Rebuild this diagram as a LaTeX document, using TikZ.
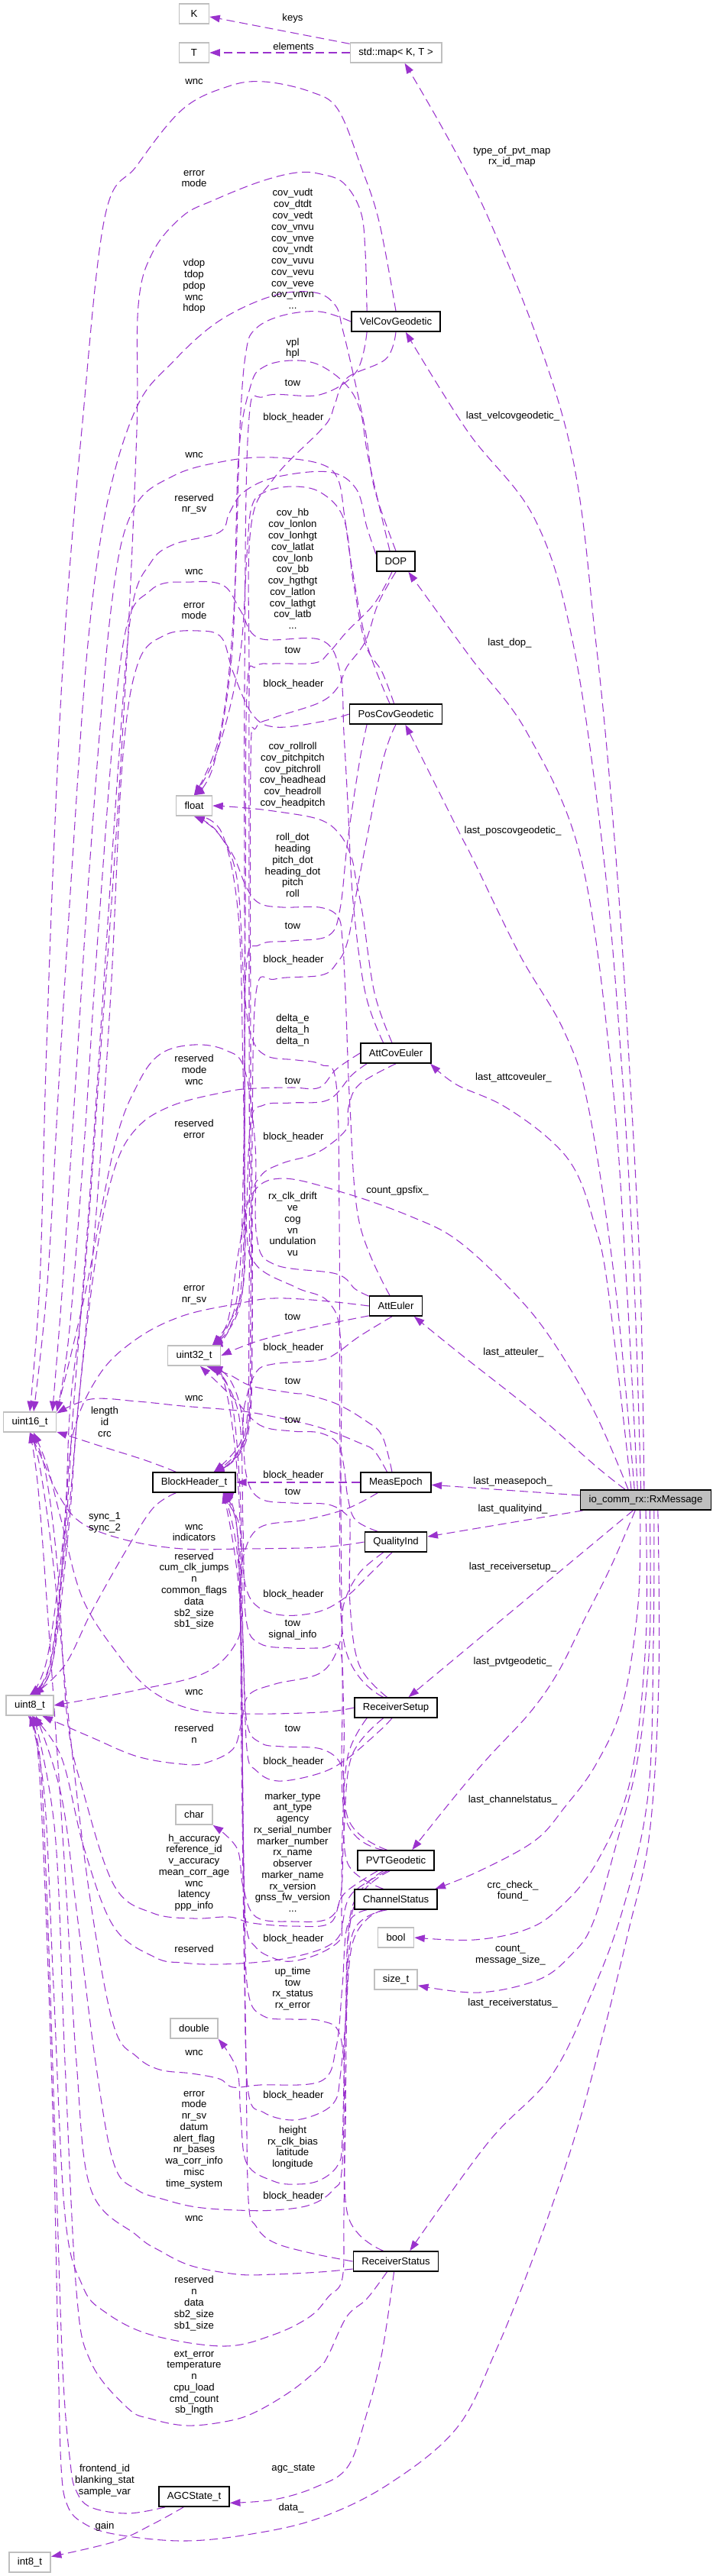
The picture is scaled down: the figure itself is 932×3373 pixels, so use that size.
\documentclass[tikz,border=0pt]{standalone}
\usepackage{fontspec}
\setmainfont{Liberation Sans}
\usetikzlibrary{arrows.meta}
\definecolor{edgecol}{HTML}{9A32CD}
\definecolor{boxgray}{HTML}{BFBFBF}
\pgfdeclarelayer{bg}
\pgfsetlayers{bg,main}

\begin{document}
\begin{tikzpicture}[x=0.2mm,y=-0.2mm,font=\fontsize{7.5}{8.4}\selectfont,
  cls/.style={draw=black,line width=0.9pt,fill=white,minimum height=5.2mm,minimum width=7.8mm,inner xsep=2.2mm,inner ysep=0pt},
  ext/.style={cls,draw=boxgray},
  root/.style={cls,fill=boxgray},
  lbl/.style={inner sep=0pt,align=center},
  dep/.style={draw=edgecol,line width=0.6pt,dash pattern=on 2.2mm off 1.2mm,tension=0.6,-{Triangle[length=2.7mm,width=1.9mm]}}]
\useasboundingbox (0,0) rectangle (932,3373);

% classes and types
\node[ext] (k) at (254,18) {K};
\node[ext] (t) at (254,69) {T};
\node[ext] (stdmap) at (518,69) {std::map< K, T >};
\node[cls] (velcov) at (518,421) {VelCovGeodetic};
\node[cls] (dop) at (518,735) {DOP};
\node[cls] (poscov) at (518,935) {PosCovGeodetic};
\node[ext] (tfloat) at (254,1055) {float};
\node[cls] (attcov) at (518,1379) {AttCovEuler};
\node[cls] (atteuler) at (518,1710) {AttEuler};
\node[ext] (tuint32) at (254,1775) {uint32\_t};
\node[ext] (tuint16) at (39,1862) {uint16\_t};
\node[cls] (blockheader) at (254,1941) {BlockHeader\_t};
\node[cls] (measepoch) at (518,1941) {MeasEpoch};
\node[root] (rxmsg) at (845,1964) {io\_comm\_rx::RxMessage};
\node[cls] (qualityind) at (518,2019) {QualityInd};
\node[ext] (tuint8) at (39,2233) {uint8\_t};
\node[cls] (rxsetup) at (518,2236) {ReceiverSetup};
\node[ext] (tchar) at (254,2376) {char};
\node[cls] (pvt) at (518,2436) {PVTGeodetic};
\node[cls] (chstatus) at (518,2487) {ChannelStatus};
\node[ext] (tbool) at (518,2537) {bool};
\node[ext] (tsize) at (518,2592) {size\_t};
\node[ext] (tdouble) at (254,2656) {double};
\node[cls] (rxstatus) at (518,2961) {ReceiverStatus};
\node[cls] (agc) at (254,3269) {AGCState\_t};
\node[ext] (tint8) at (39,3355) {int8\_t};

% member labels
\node[lbl] (lkeys) at (383,24) {keys};
\node[lbl] (lelem) at (384,61) {elements};
\node[lbl] (lmap) at (670,205) {type\_of\_pvt\_map\\rx\_id\_map};
\node[lbl] (lvcwnc) at (254,107) {wnc};
\node[lbl] (lvcerr) at (254,234) {error\\mode};
\node[lbl] (lvccov) at (383,326) {cov\_vudt\\cov\_dtdt\\cov\_vedt\\cov\_vnvu\\cov\_vnve\\cov\_vndt\\cov\_vuvu\\cov\_vevu\\cov\_veve\\cov\_vnvn\\...};
\node[lbl] (ldopu16) at (254,375) {vdop\\tdop\\pdop\\wnc\\hdop};
\node[lbl] (ldopfl) at (383,456) {vpl\\hpl};
\node[lbl] (lvctow) at (383,501) {tow};
\node[lbl] (lvcbh) at (384,547) {block\_header};
\node[lbl] (llastvc) at (671,545) {last\_velcovgeodetic\_};
\node[lbl] (lpcwnc) at (254,596) {wnc};
\node[lbl] (ldopu8) at (254,660) {reserved\\nr\_sv};
\node[lbl] (lpccov) at (383,745) {cov\_hb\\cov\_lonlon\\cov\_lonhgt\\cov\_latlat\\cov\_lonb\\cov\_bb\\cov\_hgthgt\\cov\_latlon\\cov\_lathgt\\cov\_latb\\...};
\node[lbl] (lacwnc) at (254,749) {wnc};
\node[lbl] (lpcerr) at (254,800) {error\\mode};
\node[lbl] (llastdop) at (667,842) {last\_dop\_};
\node[lbl] (ldoptow) at (383,851) {tow};
\node[lbl] (ldopbh) at (384,896) {block\_header};
\node[lbl] (laccov) at (383,1015) {cov\_rollroll\\cov\_pitchpitch\\cov\_pitchroll\\cov\_headhead\\cov\_headroll\\cov\_headpitch};
\node[lbl] (llastpc) at (671,1088) {last\_poscovgeodetic\_};
\node[lbl] (laefl) at (383,1133) {roll\_dot\\heading\\pitch\_dot\\heading\_dot\\pitch\\roll};
\node[lbl] (lpctow) at (383,1212) {tow};
\node[lbl] (lpcbh) at (384,1257) {block\_header};
\node[lbl] (lrsfl) at (383,1349) {delta\_e\\delta\_h\\delta\_n};
\node[lbl] (laeu16) at (254,1401) {reserved\\mode\\wnc};
\node[lbl] (lactow) at (383,1415) {tow};
\node[lbl] (llastac) at (672,1411) {last\_attcoveuler\_};
\node[lbl] (lacu8) at (254,1478) {reserved\\error};
\node[lbl] (lacbh) at (384,1489) {block\_header};
\node[lbl] (lgpsfix) at (520,1559) {count\_gpsfix\_};
\node[lbl] (lpvtfl) at (383,1603) {rx\_clk\_drift\\ve\\cog\\vn\\undulation\\vu};
\node[lbl] (laeu8) at (254,1696) {error\\nr\_sv};
\node[lbl] (laetow) at (383,1724) {tow};
\node[lbl] (laebh) at (384,1765) {block\_header};
\node[lbl] (llastae) at (672,1771) {last\_atteuler\_};
\node[lbl] (lmetow) at (383,1808) {tow};
\node[lbl] (lmewnc) at (254,1831) {wnc};
\node[lbl] (lbhu16) at (137,1862) {length\\id\\crc};
\node[lbl] (lqitow) at (383,1859) {tow};
\node[lbl] (lmebh) at (384,1932) {block\_header};
\node[lbl] (llastme) at (671,1940) {last\_measepoch\_};
\node[lbl] (lrstow) at (383,1953) {tow};
\node[lbl] (llastqi) at (671,1976) {last\_qualityind\_};
\node[lbl] (lbhu8) at (137,1994) {sync\_1\\sync\_2};
\node[lbl] (lqiu16) at (254,2007) {wnc\\indicators};
\node[lbl] (lmeu8) at (254,2083) {reserved\\cum\_clk\_jumps\\n\\common\_flags\\data\\sb2\_size\\sb1\_size};
\node[lbl] (llastrs) at (671,2052) {last\_receiversetup\_};
\node[lbl] (lqibh) at (384,2088) {block\_header};
\node[lbl] (lpvttow) at (383,2134) {tow\\signal\_info};
\node[lbl] (llastpvt) at (671,2176) {last\_pvtgeodetic\_};
\node[lbl] (lrswnc) at (254,2216) {wnc};
\node[lbl] (lqiu8) at (254,2270) {reserved\\n};
\node[lbl] (lcstow) at (383,2263) {tow};
\node[lbl] (lrsbh) at (384,2307) {block\_header};
\node[lbl] (llastcs) at (671,2357) {last\_channelstatus\_};
\node[lbl] (lrschar) at (383,2425) {marker\_type\\ant\_type\\agency\\rx\_serial\_number\\marker\_number\\rx\_name\\observer\\marker\_name\\rx\_version\\gnss\_fw\_version\\...};
\node[lbl] (lpvtu16) at (254,2452) {h\_accuracy\\reference\_id\\v\_accuracy\\mean\_corr\_age\\wnc\\latency\\ppp\_info};
\node[lbl] (lcrc) at (671,2476) {crc\_check\_\\found\_};
\node[lbl] (lpvtbh) at (384,2539) {block\_header};
\node[lbl] (lrsu8) at (254,2552) {reserved};
\node[lbl] (lcount) at (668,2560) {count\_\\message\_size\_};
\node[lbl] (lrxu32) at (383,2604) {up\_time\\tow\\rx\_status\\rx\_error};
\node[lbl] (llastrx) at (671,2623) {last\_receiverstatus\_};
\node[lbl] (lcswnc) at (254,2688) {wnc};
\node[lbl] (lcsbh) at (384,2744) {block\_header};
\node[lbl] (lpvtu8) at (254,2802) {error\\mode\\nr\_sv\\datum\\alert\_flag\\nr\_bases\\wa\_corr\_info\\misc\\time\_system};
\node[lbl] (lpvtdbl) at (383,2812) {height\\rx\_clk\_bias\\latitude\\longitude};
\node[lbl] (lrxbh) at (384,2876) {block\_header};
\node[lbl] (lrxwnc) at (254,2905) {wnc};
\node[lbl] (lcsu8) at (254,3016) {reserved\\n\\data\\sb2\_size\\sb1\_size};
\node[lbl] (lrxu8) at (254,3120) {ext\_error\\temperature\\n\\cpu\_load\\cmd\_count\\sb\_lngth};
\node[lbl] (lagc) at (384,3233) {agc\_state};
\node[lbl] (lagcu8) at (137,3248) {frontend\_id\\blanking\_stat\\sample\_var};
\node[lbl] (ldata) at (381,3284) {data\_};
\node[lbl] (lgain) at (137,3308) {gain};

\begin{pgfonlayer}{bg}
\fill[white] (0,0) rectangle (932,3373);
% std::map
\draw[dep] (stdmap) -- (k);
\draw[dep] (stdmap) -- (t);
% RxMessage
\draw[dep] plot[smooth] coordinates {(rxmsg.99) (838,1683) (824,1403) (806,1123) (780,843) (741,563) (638,283) (stdmap.310)};
\draw[dep] plot[smooth] coordinates {(rxmsg.115) (830,1683) (814,1403) (790,1123) (750,843) (700,680) (612,565) (velcov.313)};
\draw[dep] plot[smooth] coordinates {(rxmsg.128) (820,1683) (800,1403) (760,1123) (690,960) (615,860) (dop.320)};
\draw[dep] plot[smooth] coordinates {(rxmsg.137) (805,1683) (770,1450) (738,1350) (680,1250) (618,1123) (600,1088) (poscov.312)};
\draw[dep] plot[smooth] coordinates {(rxmsg.144) (795,1683) (777,1600) (753,1533) (717,1490) (657,1447) (597,1420) (attcov.343)};
\draw[dep] plot[smooth] coordinates {(rxmsg.149) (777,1847) (717,1747) (663,1683) (597,1623) (538,1593) (454,1563) (370,1543) (329,1565) (312,1640) (298,1730) (tuint32.30)};
\draw[dep] plot[smooth] coordinates {(rxmsg.153) (780,1920) (700,1850) (600,1771) (atteuler.330)};
\draw[dep] (rxmsg) -- (measepoch);
\draw[dep] (rxmsg) -- (qualityind);
\draw[dep] (rxmsg) -- (rxsetup);
\draw[dep] plot[smooth] coordinates {(rxmsg.225) (800,2050) (765,2120) (730,2190) (693,2243) (640,2300) (597,2350) (pvt.33)};
\draw[dep] plot[smooth] coordinates {(rxmsg.242) (835,2100) (815,2230) (780,2310) (740,2365) (700,2410) (627,2450) (chstatus.15)};
\draw[dep] plot[smooth] coordinates {(rxmsg.270) (845,2150) (825,2330) (780,2440) (730,2500) (687,2527) (620,2540) (tbool.east)};
\draw[dep] plot[smooth] coordinates {(rxmsg.291) (850,2150) (835,2300) (805,2420) (775,2520) (747,2560) (705,2592) (627,2609) (tsize.345)};
\draw[dep] plot[smooth] coordinates {(rxmsg.308) (855,2150) (848,2350) (815,2500) (770,2620) (720,2720) (639,2805) (rxstatus.37)};
\draw[dep] plot[smooth] coordinates {(rxmsg.319) (862,2200) (850,2400) (822,2530) (790,2660) (750,2805) (700,2950) (648,3080) (597,3180) (508,3253) (418,3297) (329,3318) (239,3327) (149,3318) (108,3303) (88,3280) (80,3230) (76,3080) (70,2800) (60,2500) (50,2300) (tuint8.south)};
% VelCovGeodetic
\draw[dep] plot[smooth] coordinates {(velcov.north) (496,290) (472,217) (442,143) (406,120) (346,107) (299,113) (239,143) (179,217) (137,285) (107,563) (84,843) (70,1123) (60,1400) (52,1680) (tuint16.north)};
\draw[dep] plot[smooth] coordinates {(velcov.160) (478,330) (472,277) (450,240) (420,228) (388,226) (340,238) (280,262) (239,283) (200,330) (181,400) (179,563) (167,843) (150,1123) (130,1400) (110,1680) (92,1840) (84,2000) (62,2170) (tuint8.north)};
\draw[dep] plot[smooth] coordinates {(velcov.west) (418,408) (370,413) (335,430) (322,460) (314,560) (306,800) (288,960) (tfloat.north)};
\draw[dep] plot[smooth] coordinates {(velcov.200) (466,487) (418,517) (346,519) (325,560) (320,900) (320,1300) (318,1650) (300,1740) (tuint32.30)};
\draw[dep] plot[smooth] coordinates {(velcov.south) (505,470) (454,495) (438,530) (432,547) (418,565) (358,627) (328,693) (326,900) (326,1300) (326,1700) (320,1880) (blockheader.28)};
% DOP
\draw[dep] plot[smooth] coordinates {(dop.north) (490,640) (478,563) (460,480) (448,430) (439,400) (412,383) (358,387) (287,420) (227,473) (179,533) (140,660) (115,843) (95,1123) (78,1400) (62,1680) (tuint16.70)};
\draw[dep] plot[smooth] coordinates {(dop.160) (480,690) (466,640) (430,618) (360,625) (318,645) (300,672) (287,697) (227,713) (197,737) (172,800) (155,1000) (135,1300) (115,1600) (96,1845) (86,2000) (66,2175) (tuint8.north)};
\draw[dep] plot[smooth] coordinates {(dop.120) (482,600) (472,540) (454,505) (418,478) (382,472) (346,480) (328,505) (312,600) (304,850) (280,1000) (tfloat.north)};
\draw[dep] plot[smooth] coordinates {(dop.250) (490,790) (454,827) (430,855) (412,868) (358,869) (335,873) (323,907) (321,1200) (319,1500) (310,1700) (tuint32.30)};
\draw[dep] plot[smooth] coordinates {(dop.south) (495,790) (478,840) (454,873) (442,900) (418,920) (358,940) (335,953) (328,1000) (328,1400) (328,1700) (322,1880) (blockheader.28)};
% PosCovGeodetic
\draw[dep] plot[smooth] coordinates {(poscov.120) (480,843) (460,740) (451,677) (442,627) (418,607) (358,599) (299,603) (227,623) (173,670) (145,800) (118,1123) (100,1400) (82,1680) (tuint16.25)};
\draw[dep] plot[smooth] coordinates {(poscov.west) (420,945) (360,952) (330,935) (305,880) (290,835) (260,826) (215,832) (180,870) (160,1000) (145,1300) (125,1600) (102,1845) (88,2000) (66,2178) (tuint8.north)};
\draw[dep] plot[smooth] coordinates {(poscov.100) (500,880) (478,843) (462,760) (450,680) (420,645) (382,637) (345,645) (329,665) (323,727) (316,843) (300,930) (278,1000) (tfloat.north)};
\draw[dep] plot[smooth] coordinates {(poscov.200) (470,1000) (455,1100) (445,1190) (430,1225) (382,1232) (340,1237) (322,1270) (320,1500) (316,1700) (tuint32.30)};
\draw[dep] plot[smooth] coordinates {(poscov.south) (500,1000) (470,1150) (455,1232) (440,1262) (420,1277) (360,1282) (335,1300) (330,1500) (330,1700) (324,1880) (blockheader.28)};
% AttCovEuler
\draw[dep] plot[smooth] coordinates {(attcov.140) (478,1300) (462,1180) (455,1050) (450,960) (445,880) (420,838) (340,836) (315,800) (293,767) (251,762) (197,773) (160,850) (130,1200) (110,1500) (90,1750) (tuint16.north east)};
\draw[dep] plot[smooth] coordinates {(attcov.west) (440,1400) (418,1424) (382,1424) (335,1425) (299,1429) (227,1447) (179,1477) (149,1533) (125,1650) (102,1845) (90,2000) (68,2180) (tuint8.north)};
\draw[dep] plot[smooth] coordinates {(attcov.110) (490,1300) (475,1200) (466,1153) (460,1123) (445,1093) (418,1073) (358,1062) (311,1057) (tfloat.east)};
\draw[dep] plot[smooth] coordinates {(attcov.200) (460,1408) (430,1440) (382,1444) (345,1447) (328,1470) (322,1600) (315,1700) (tuint32.30)};
\draw[dep] plot[smooth] coordinates {(attcov.south) (470,1420) (456,1450) (454,1477) (430,1500) (406,1513) (370,1523) (341,1540) (330,1580) (330,1750) (322,1880) (blockheader.28)};
% AttEuler
\draw[dep] plot[smooth] coordinates {(atteuler.160) (465,1688) (440,1668) (360,1656) (336,1620) (334,1500) (320,1400) (295,1375) (254,1368) (210,1380) (180,1420) (150,1500) (110,1700) (tuint16.north east)};
\draw[dep] plot[smooth] coordinates {(atteuler.west) (420,1703) (358,1700) (311,1707) (239,1723) (179,1753) (130,1800) (95,1880) (85,2000) (68,2180) (tuint8.north)};
\draw[dep] plot[smooth] coordinates {(atteuler.120) (470,1600) (458,1450) (452,1300) (448,1230) (442,1200) (418,1188) (370,1188) (340,1183) (323,1163) (305,1120) (280,1085) (tfloat.south)};
\draw[dep] plot[smooth] coordinates {(atteuler.200) (418,1736) (340,1755) (tuint32.east)};
\draw[dep] plot[smooth] coordinates {(atteuler.250) (470,1750) (440,1772) (418,1781) (358,1786) (335,1797) (320,1840) (314,1890) (blockheader.28)};
% MeasEpoch
\draw[dep] plot[smooth] coordinates {(measepoch.130) (490,1900) (472,1890) (418,1869) (358,1855) (311,1847) (239,1841) (180,1835) (119,1832) (tuint16.18)};
\draw[dep] plot[smooth] coordinates {(measepoch.210) (455,1975) (400,1990) (340,2000) (318,2040) (314,2100) (311,2147) (269,2190) (179,2213) (tuint8.east)};
\draw[dep] plot[smooth] coordinates {(measepoch.110) (500,1880) (478,1860) (440,1838) (400,1826) (383,1824) (330,1815) (300,1800) (tuint32.320)};
\draw[dep] (measepoch) -- (blockheader);
% QualityInd
\draw[dep] plot[smooth] coordinates {(qualityind.west) (420,2026) (317,2028) (239,2028) (167,2017) (108,1995) (78,1960) (55,1910) (tuint16.south)};
\draw[dep] plot[smooth] coordinates {(qualityind.220) (470,2060) (450,2100) (445,2150) (420,2190) (360,2205) (325,2220) (316,2255) (305,2290) (270,2308) (239,2310) (180,2300) (120,2275) (tuint8.320)};
\draw[dep] plot[smooth] coordinates {(qualityind.150) (465,1990) (455,1960) (450,1920) (442,1890) (418,1876) (383,1874) (340,1866) (305,1830) (tuint32.300)};
\draw[dep] plot[smooth] coordinates {(qualityind.250) (485,2060) (454,2090) (418,2110) (370,2115) (335,2102) (320,2070) (314,2000) (300,1970) (blockheader.340)};
% ReceiverSetup
\draw[dep] plot[smooth] coordinates {(rxsetup.west) (420,2242) (317,2244) (251,2238) (197,2213) (155,2167) (108,2093) (80,1990) (62,1920) (tuint16.290)};
\draw[dep] plot[smooth] coordinates {(rxsetup.200) (455,2300) (448,2400) (447,2500) (445,2533) (418,2553) (358,2567) (287,2572) (239,2570) (203,2563) (149,2523) (110,2420) (80,2300) (tuint8.280)};
\draw[dep] plot[smooth] coordinates {(rxsetup.140) (450,2150) (445,1900) (444,1600) (440,1420) (420,1394) (388,1388) (350,1383) (330,1360) (320,1300) (310,1150) (285,1090) (tfloat.south)};
\draw[dep] plot[smooth] coordinates {(rxsetup.130) (470,2180) (458,2100) (458,2000) (455,1985) (430,1970) (383,1968) (340,1962) (322,1930) (316,1850) (300,1805) (tuint32.330)};
\draw[dep] plot[smooth] coordinates {(rxsetup.250) (496,2267) (454,2303) (418,2322) (364,2332) (335,2318) (323,2290) (318,2150) (310,2000) (blockheader.340)};
\draw[dep] plot[smooth] coordinates {(rxsetup.220) (460,2300) (450,2400) (446,2480) (430,2512) (383,2516) (335,2510) (318,2470) (310,2420) (tchar.south east)};
% PVTGeodetic
\draw[dep] plot[smooth] coordinates {(pvt.210) (450,2480) (432,2518) (383,2522) (330,2518) (300,2510) (254,2512) (200,2505) (150,2470) (110,2350) (88,2250) (75,2050) (58,1920) (tuint16.south)};
\draw[dep] plot[smooth] coordinates {(pvt.220) (460,2500) (452,2650) (448,2833) (436,2867) (406,2887) (358,2894) (311,2894) (257,2890) (215,2880) (179,2867) (149,2833) (125,2700) (100,2500) (80,2350) (tuint8.300)};
\draw[dep] plot[smooth] coordinates {(pvt.140) (452,2380) (448,2200) (446,1950) (446,1760) (430,1705) (388,1686) (335,1656) (322,1600) (318,1400) (312,1200) (290,1090) (tfloat.south)};
\draw[dep] plot[smooth] coordinates {(pvt.130) (455,2380) (450,2250) (445,2160) (420,2158) (383,2158) (340,2152) (322,2120) (318,2000) (312,1850) (tuint32.330)};
\draw[dep] plot[smooth] coordinates {(pvt.230) (460,2480) (448,2520) (445,2540) (418,2558) (382,2568) (358,2564) (335,2550) (322,2520) (318,2400) (316,2200) (310,2000) (blockheader.340)};
\draw[dep] plot[smooth] coordinates {(pvt.240) (462,2500) (452,2650) (448,2800) (442,2835) (418,2855) (388,2860) (358,2856) (323,2833) (315,2770) (310,2710) (tdouble.south east)};
% ChannelStatus
\draw[dep] plot[smooth] coordinates {(chstatus.200) (455,2520) (448,2600) (440,2680) (420,2725) (340,2730) (305,2733) (287,2722) (251,2715) (209,2710) (179,2693) (149,2653) (120,2500) (95,2300) (70,2050) (52,1920) (tuint16.south)};
\draw[dep] plot[smooth] coordinates {(chstatus.220) (460,2550) (452,2750) (450,2900) (448,2983) (430,3007) (406,3033) (358,3057) (293,3072) (197,3057) (137,3027) (108,2993) (85,2900) (70,2600) (58,2350) (tuint8.south)};
\draw[dep] plot[smooth] coordinates {(chstatus.140) (455,2440) (450,2350) (446,2310) (420,2290) (370,2287) (341,2282) (323,2255) (318,2150) (314,1950) (300,1820) (tuint32.320)};
\draw[dep] plot[smooth] coordinates {(chstatus.230) (462,2530) (452,2650) (445,2720) (439,2750) (418,2767) (382,2776) (345,2766) (325,2740) (320,2600) (316,2300) (312,2050) (blockheader.340)};
% ReceiverStatus
\draw[dep] plot[smooth] coordinates {(rxstatus.190) (418,2975) (358,2978) (311,2978) (251,2967) (209,2947) (179,2927) (119,2867) (100,2700) (85,2450) (65,2150) (50,1950) (tuint16.south)};
\draw[dep] plot[smooth] coordinates {(rxstatus.230) (480,3010) (454,3033) (430,3083) (418,3100) (382,3130) (335,3158) (299,3170) (245,3176) (197,3167) (167,3153) (119,3093) (100,3000) (85,2700) (72,2400) (tuint8.290)};
\draw[dep] plot[smooth] coordinates {(rxstatus.140) (455,2900) (452,2750) (445,2665) (420,2646) (383,2644) (345,2640) (325,2610) (320,2500) (316,2200) (312,1950) (290,1800) (tuint32.south)};
\draw[dep] plot[smooth] coordinates {(rxstatus.west) (406,2950) (358,2936) (335,2915) (325,2880) (322,2700) (318,2400) (314,2100) (blockheader.340)};
\draw[dep] plot[smooth] coordinates {(rxstatus.260) (500,3080) (480,3160) (455,3230) (412,3257) (358,3273) (agc.350)};
% BlockHeader_t and AGCState_t
\draw[dep] plot[smooth] coordinates {(blockheader.150) (190,1912) (130,1893) (tuint16.340)};
\draw[dep] plot[smooth] coordinates {(blockheader.210) (200,1975) (165,2030) (120,2110) (85,2180) (tuint8.70)};
\draw[dep] plot[smooth] coordinates {(agc.200) (167,3291) (119,3283) (100,3262) (92,3225) (82,3100) (72,2800) (62,2500) (52,2300) (tuint8.260)};
\draw[dep] plot[smooth] coordinates {(agc.225) (200,3305) (150,3328) (tint8.15)};
\end{pgfonlayer}
\end{tikzpicture}
\end{document}
